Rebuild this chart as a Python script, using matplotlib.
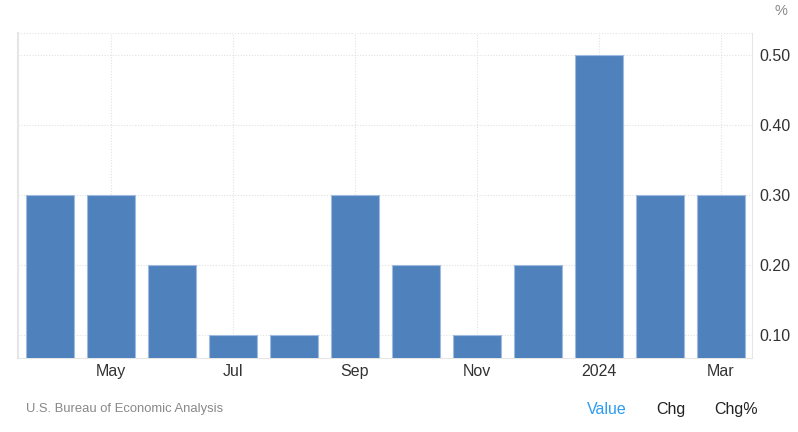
import matplotlib.pyplot as plt

months = ["Apr", "May", "Jun", "Jul", "Aug", "Sep", "Oct", "Nov", "Dec", "2024", "Feb", "Mar"]
values = [0.3, 0.3, 0.2, 0.1, 0.1, 0.3, 0.2, 0.1, 0.2, 0.5, 0.3, 0.3]
yticks = [0.10, 0.20, 0.30, 0.40, 0.50]

plt.rcParams['font.family'] = ['Liberation Sans', 'DejaVu Sans']

fig = plt.figure(figsize=(7.98, 4.32), dpi=100)
ax = fig.add_axes([0.0226, 0.1713, 0.9198, 0.7523])

x = list(range(len(months)))
ax.bar(x, values, width=0.79, color="#4f81bd", edgecolor="#9fbbe0", linewidth=0.8, zorder=3)

ax.set_xlim(-0.52, 11.51)
ax.set_ylim(0.067, 0.531)

ax.yaxis.tick_right()
ax.set_yticks(yticks + [0.531])
ax.set_yticklabels([f"{v:.2f}" for v in yticks] + [""])
tick_idx = [1, 3, 5, 7, 9, 11]
ax.set_xticks(tick_idx)
ax.set_xticklabels([months[i] for i in tick_idx])
ax.tick_params(axis="both", length=0, labelsize=11.5, labelcolor="#333333")
ax.tick_params(axis="y", pad=5)
ax.tick_params(axis="x", pad=4)

ax.grid(True, color="#e2e2e2", linestyle=(0, (1, 1.5)), linewidth=0.8, zorder=0)
ax.spines["top"].set_visible(False)
ax.spines["left"].set_color("#e6e6e6")
ax.spines["right"].set_color("#e6e6e6")
ax.spines["bottom"].set_color("#e6e6e6")
ax.spines["left"].set_linewidth(1.5)

fig.text(0.978, 0.99, "%", ha="center", va="top", fontsize=10.5, color="#888888")
fig.text(0.032, 0.053, "U.S. Bureau of Economic Analysis", ha="left", va="center", fontsize=9.4, color="#888888")
fig.text(0.761, 0.053, "Value", ha="center", va="center", fontsize=11.5, color="#2e9cf0")
fig.text(0.841, 0.053, "Chg", ha="center", va="center", fontsize=11.5, color="#222222")
fig.text(0.922, 0.053, "Chg%", ha="center", va="center", fontsize=11.5, color="#222222")

fig.savefig("out.png", dpi=100)
